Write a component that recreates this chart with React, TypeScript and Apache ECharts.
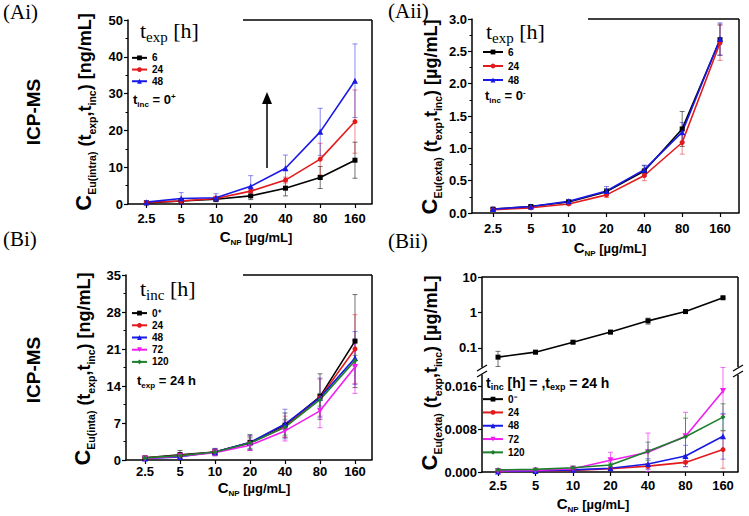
import React, { useEffect, useRef } from 'react';
import * as echarts from 'echarts';

// ---------- data ----------
const xLabels = ['2.5', '5', '10', '20', '40', '80', '160'];
const xIdx = [0, 1, 2, 3, 4, 5, 6];

// (Ai) intracellular, t_inc = 0+, legend t_exp [h]
const ai6 = [0.3, 0.8, 1.3, 2.2, 4.3, 7.2, 11.9];
const ai6Err = [0.3, 0.4, 0.5, 1.0, 2.1, 3.0, 4.9];
const ai24 = [0.4, 0.8, 1.5, 3.5, 6.5, 12.2, 22.4];
const ai24Err = [0.3, 0.5, 0.6, 0.9, 0.8, 4.3, 8.6];
const ai48 = [0.5, 1.5, 1.7, 4.8, 9.7, 19.6, 33.5];
const ai48Err = [0.4, 1.6, 1.1, 2.9, 3.6, 6.4, 10.0];

// (Aii) extracellular, t_inc = 0-, legend t_exp [h]
const aii6 = [0.06, 0.1, 0.17, 0.33, 0.65, 1.3, 2.68];
const aii6Err = [0.02, 0.02, 0.03, 0.05, 0.08, 0.27, 0.24];
const aii24 = [0.05, 0.08, 0.14, 0.28, 0.58, 1.09, 2.63];
const aii24Err = [0.02, 0.02, 0.02, 0.04, 0.08, 0.18, 0.27];
const aii48 = [0.06, 0.1, 0.18, 0.34, 0.67, 1.25, 2.69];
const aii48Err = [0.02, 0.02, 0.03, 0.07, 0.07, 0.15, 0.25];

// (Bi) intracellular, t_exp = 24 h, legend t_inc [h]
const bi0 = [0.4, 1.0, 1.5, 3.3, 6.6, 12.0, 22.5];
const bi0Err = [0.3, 0.8, 0.6, 1.5, 2.3, 4.3, 8.8];
const bi24 = [0.4, 0.8, 1.5, 3.2, 6.3, 11.8, 21.0];
const bi24Err = [0.3, 0.6, 0.6, 1.3, 2.0, 3.5, 6.5];
const bi48 = [0.3, 0.6, 1.5, 3.3, 6.8, 11.8, 19.3];
const bi48Err = [0.2, 0.5, 0.7, 1.3, 2.8, 3.7, 5.0];
const bi72 = [0.3, 0.7, 1.4, 2.8, 5.5, 9.3, 17.6];
const bi72Err = [0.2, 0.5, 0.6, 1.0, 1.9, 3.2, 5.0];
const bi120 = [0.4, 0.8, 1.5, 3.2, 6.2, 11.4, 18.8];
const bi120Err = [0.2, 0.4, 0.5, 1.0, 1.5, 1.2, 1.0];

// (Bii) extracellular, t_exp = 24 h, legend t_inc [h]
const bii0 = [0.055, 0.076, 0.145, 0.28, 0.58, 1.06, 2.6];
const bii0Err = [0.025, 0.008, 0.012, 0.03, 0.11, 0.1, 0.15];
const bii24 = [0.0001, 0.0002, 0.0003, 0.0006, 0.0011, 0.0018, 0.0042];
const bii24Err = [0.0001, 0.0001, 0.0002, 0.0003, 0.0005, 0.0008, 0.0035];
const bii48 = [0.0001, 0.0002, 0.0004, 0.0007, 0.0015, 0.003, 0.0067];
const bii48Err = [0.0001, 0.0001, 0.0002, 0.0003, 0.001, 0.002, 0.0043];
const bii72 = [0.0002, 0.0003, 0.0006, 0.0022, 0.0037, 0.0067, 0.0152];
const bii72Err = [0.0001, 0.0002, 0.0003, 0.0015, 0.0036, 0.0045, 0.0044];
const bii120 = [0.0004, 0.0005, 0.0008, 0.0013, 0.0039, 0.0066, 0.0103];
const bii120Err = [0.0001, 0.0001, 0.0003, 0.0004, 0.0017, 0.0035, 0.0025];

const biiLogTicks = [0.1, 1, 10];
const biiLinTicks = [0, 0.008, 0.016];

// ---------- style ----------
const SANS = '"Liberation Sans", Arial, Helvetica, sans-serif';
const SERIF = '"Liberation Serif", "Times New Roman", serif';
const C = { k: '#000000', r: '#e3191c', b: '#1919e6', m: '#f01ff0', g: '#1b7f2c' };
const E = {
  k: 'rgba(0,0,0,0.55)',
  r: 'rgba(227,25,28,0.5)',
  b: 'rgba(25,25,230,0.5)',
  m: 'rgba(240,31,240,0.65)',
  g: 'rgba(27,127,44,0.65)',
};

const grids = [
  { left: 128, top: 20, width: 244, height: 184 }, // Ai
  { left: 472, top: 19, width: 267, height: 194 }, // Aii
  { left: 126, top: 275, width: 246, height: 185 }, // Bi
  { left: 482, top: 277, width: 256, height: 90 }, // Bii upper (log)
  { left: 482, top: 375, width: 256, height: 97 }, // Bii lower (linear)
];
const xRange = [
  [-0.53, 6.49],
  [-0.555, 6.502],
  [-0.543, 6.486],
  [-0.427, 6.4],
  [-0.427, 6.4],
];
const xLabelMargin = [7.5, 8.5, 5, 6.5, 6.5];

function lineS(name: string, vals: number[], color: string, symbol: string, gi: number, rot = 0) {
  return {
    type: 'line',
    name,
    xAxisIndex: gi,
    yAxisIndex: gi,
    data: vals.map((v, i) => [xIdx[i], v]),
    symbol,
    symbolSize: symbol === 'triangle' ? 6 : 5,
    symbolRotate: rot,
    lineStyle: { color, width: 1.6 },
    itemStyle: { color },
    z: 3,
    clip: false,
  };
}

function errS(vals: number[], errs: number[], color: string, gi: number) {
  return {
    type: 'custom',
    xAxisIndex: gi,
    yAxisIndex: gi,
    silent: true,
    z: 2,
    clip: false,
    encode: { x: 0, y: 1 },
    data: vals.map((v, i) => [xIdx[i], v, errs[i]]),
    renderItem: (_p: any, api: any) => {
      const x = api.value(0);
      const v = api.value(1);
      const e = api.value(2);
      const hi = api.coord([x, v + e]);
      const lo = api.coord([x, v - e]);
      const c = 2.5;
      const st = { stroke: color, lineWidth: 1 };
      return {
        type: 'group',
        children: [
          { type: 'line', shape: { x1: hi[0], y1: hi[1], x2: lo[0], y2: lo[1] }, style: st },
          { type: 'line', shape: { x1: hi[0] - c, y1: hi[1], x2: hi[0] + c, y2: hi[1] }, style: st },
          { type: 'line', shape: { x1: lo[0] - c, y1: lo[1], x2: lo[0] + c, y2: lo[1] }, style: st },
        ],
      };
    },
  };
}

function xAxisCfg(gi: number, show = true) {
  return {
    type: 'value',
    gridIndex: gi,
    min: xRange[gi][0],
    max: xRange[gi][1],
    splitLine: { show: false },
    axisLine: { show, onZero: false, lineStyle: { color: '#000', width: 1.5 } },
    axisTick: { show, customValues: xIdx, length: 4, lineStyle: { color: '#000', width: 1.2 } },
    axisLabel: {
      show,
      customValues: xIdx,
      margin: xLabelMargin[gi],
      formatter: (v: number) => xLabels[Math.round(v)],
      color: '#000',
      fontSize: 13,
      fontWeight: 'bold',
      fontFamily: SANS,
    },
  };
}

const yLabelStyle = { color: '#000', fontSize: 13, fontWeight: 'bold', fontFamily: SANS, margin: 5 };
const yLine = { show: true, onZero: false, lineStyle: { color: '#000', width: 1.5 } };
const yTick = { show: true, length: 4, lineStyle: { color: '#000', width: 1.2 } };
const yMinor = { show: true, splitNumber: 2, length: 2.5, lineStyle: { color: '#000', width: 1 } };

function legendCfg(names: string[], left: number, top: number, itemWidth: number, lh: number) {
  return {
    data: names,
    orient: 'vertical',
    left,
    top,
    itemWidth,
    itemHeight: 6,
    itemGap: 0,
    padding: 0,
    selectedMode: false,
    formatter: (n: string) => n.split('|')[1],
    textStyle: { fontSize: 10, fontWeight: 'bold', fontFamily: SANS, color: '#000', lineHeight: lh },
  };
}

// rich text with sub/superscripts
function R(F: number, S: number, o: { Fc?: number; d?: number; fam?: string; w?: string } = {}) {
  const fam = o.fam || SANS;
  const w = o.w || 'bold';
  const Fc = o.Fc || F;
  const d = o.d ?? Math.round(F * 0.2);
  const LH = Math.max(F, Fc) + d + 1;
  const base = { fontFamily: fam, fontWeight: w, fill: '#000' };
  return {
    m: { ...base, fontSize: F, lineHeight: LH, verticalAlign: 'bottom', padding: [0, 0, d, 0] },
    c: { ...base, fontSize: Fc, verticalAlign: 'bottom', padding: [0, 0, d, 0] },
    s: { ...base, fontSize: S, verticalAlign: 'bottom' },
    p: { ...base, fontSize: S, verticalAlign: 'top', padding: [Math.max(0, LH - d - F - 1), 0, 0, 0] },
  };
}

function T(x: number, y: number, text: string, rich: any, o: { rot?: number; align?: string; va?: string } = {}) {
  return {
    type: 'text',
    x,
    y,
    rotation: o.rot || 0,
    z: 20,
    style: { text, rich, textAlign: o.align || 'left', textVerticalAlign: o.va || 'middle', fill: '#000' },
  };
}
function P(x: number, y: number, text: string, size: number, fam: string, weight: string, o: { rot?: number; align?: string } = {}) {
  return {
    type: 'text',
    x,
    y,
    rotation: o.rot || 0,
    z: 20,
    style: {
      text,
      fontSize: size,
      fontFamily: fam,
      fontWeight: weight,
      textAlign: o.align || 'left',
      textVerticalAlign: 'middle',
      fill: '#000',
    },
  };
}
function L(x1: number, y1: number, x2: number, y2: number, w = 1.5) {
  return { type: 'line', z: 20, shape: { x1, y1, x2, y2 }, style: { stroke: '#000', lineWidth: w } };
}

const yTitleRich = R(18, 10.5, { Fc: 22, d: 3 });
const xTitleRich = R(13, 8, { Fc: 15, d: 2 });
const legTitleRich = R(22, 15, { fam: SERIF, w: 'normal', d: 3 });
const noteRich = R(13, 8, { d: 2 });
const noteRich2 = R(14, 9, { d: 2 });
const ROT = Math.PI / 2;

const g = (gi: number) => grids[gi];
const rightOf = (gi: number) => g(gi).left + g(gi).width;
const bottomOf = (gi: number) => g(gi).top + g(gi).height;

const graphic: any[] = [
  // panel labels
  P(3, 12, '(Ai)', 21, SERIF, 'normal'),
  P(388, 11, '(Aii)', 21, SERIF, 'normal'),
  P(3, 239, '(Bi)', 21, SERIF, 'normal'),
  P(388, 241, '(Bii)', 21, SERIF, 'normal'),
  // ICP-MS
  P(33, 112, 'ICP-MS', 19, SANS, 'bold', { rot: ROT, align: 'center' }),
  P(33, 370, 'ICP-MS', 19, SANS, 'bold', { rot: ROT, align: 'center' }),
  // y titles
  T(84, 112, '{c|C}{s|Eu(intra)}{m| (t}{s|exp}{m|,t}{s|inc}{m|) [ng/mL]}', yTitleRich, { rot: ROT, align: 'center' }),
  T(430, 117, '{c|C}{s|Eu(exta)}{m| (t}{s|exp}{m|,t}{s|inc}{m|) [µg/mL]}', yTitleRich, { rot: ROT, align: 'center' }),
  T(83, 369, '{c|C}{s|Eu(inta)}{m| (t}{s|exp}{m|,t}{s|inc}{m|) [ng/mL]}', yTitleRich, { rot: ROT, align: 'center' }),
  T(430, 373, '{c|C}{s|Eu(exta)}{m| (t}{s|exp}{m|,t}{s|inc}{m|) [µg/mL]}', yTitleRich, { rot: ROT, align: 'center' }),
  // x titles
  T(256, 237, '{c|C}{s|NP}{m| [µg/mL]}', xTitleRich, { align: 'center' }),
  T(610, 248, '{c|C}{s|NP}{m| [µg/mL]}', xTitleRich, { align: 'center' }),
  T(254, 488, '{c|C}{s|NP}{m| [µg/mL]}', xTitleRich, { align: 'center' }),
  T(593, 504, '{c|C}{s|NP}{m| [µg/mL]}', xTitleRich, { align: 'center' }),
  // legend titles
  T(140, 31, '{m|t}{s|exp}{m| [h]}', legTitleRich),
  T(486, 32, '{m|t}{s|exp}{m| [h]}', legTitleRich),
  T(140, 289, '{m|t}{s|inc}{m| [h]}', legTitleRich),
  // notes
  T(133, 100, '{m|t}{s|inc}{m| = 0}{p|+}', noteRich),
  T(485, 96, '{m|t}{s|inc}{m| = 0}{p|-}', noteRich),
  T(137, 381, '{m|t}{s|exp}{m| = 24 h}', noteRich),
  T(486, 383, '{m|t}{s|inc}{m| [h] = ,t}{s|exp}{m| = 24 h}', noteRich2),
  // borders (right / top)
  L(rightOf(0), g(0).top, rightOf(0), bottomOf(0)),
  L(243, g(0).top, rightOf(0), g(0).top),
  L(rightOf(1), g(1).top, rightOf(1), bottomOf(1)),
  L(588, g(1).top, rightOf(1), g(1).top),
  L(rightOf(2), g(2).top, rightOf(2), bottomOf(2)),
  L(243, g(2).top, rightOf(2), g(2).top),
  L(g(3).left, g(3).top, rightOf(3), g(3).top),
  L(rightOf(3), g(3).top, rightOf(3), bottomOf(3)),
  L(rightOf(4), g(4).top, rightOf(4), bottomOf(4)),
  // axis break marks
  L(477, 371, 487, 365, 1.2),
  L(477, 377, 487, 371, 1.2),
  L(733, 371, 743, 365, 1.2),
  L(733, 377, 743, 371, 1.2),
  // arrow in Ai
  L(267, 168, 267, 103, 1.5),
  { type: 'polygon', z: 20, shape: { points: [[262, 104], [272, 104], [267, 92]] }, style: { fill: '#000' } },
];

const series: any[] = [
  // Ai
  errS(ai6, ai6Err, E.k, 0), errS(ai24, ai24Err, E.r, 0), errS(ai48, ai48Err, E.b, 0),
  lineS('Ai|6', ai6, C.k, 'rect', 0), lineS('Ai|24', ai24, C.r, 'circle', 0), lineS('Ai|48', ai48, C.b, 'triangle', 0),
  // Aii
  errS(aii6, aii6Err, E.k, 1), errS(aii24, aii24Err, E.r, 1), errS(aii48, aii48Err, E.b, 1),
  lineS('Aii|6', aii6, C.k, 'rect', 1), lineS('Aii|24', aii24, C.r, 'circle', 1), lineS('Aii|48', aii48, C.b, 'triangle', 1),
  // Bi
  errS(bi0, bi0Err, E.k, 2), errS(bi24, bi24Err, E.r, 2), errS(bi48, bi48Err, E.b, 2),
  errS(bi72, bi72Err, E.m, 2), errS(bi120, bi120Err, E.g, 2),
  lineS('Bi|0⁺', bi0, C.k, 'rect', 2), lineS('Bi|24', bi24, C.r, 'circle', 2), lineS('Bi|48', bi48, C.b, 'triangle', 2),
  lineS('Bi|72', bi72, C.m, 'triangle', 2, 180), lineS('Bi|120', bi120, C.g, 'diamond', 2),
  // Bii upper
  errS(bii0, bii0Err, E.k, 3),
  lineS('Bii|0⁻', bii0, C.k, 'rect', 3),
  // Bii lower
  errS(bii24, bii24Err, E.r, 4), errS(bii48, bii48Err, E.b, 4), errS(bii72, bii72Err, E.m, 4), errS(bii120, bii120Err, E.g, 4),
  lineS('Bii|24', bii24, C.r, 'circle', 4), lineS('Bii|48', bii48, C.b, 'triangle', 4),
  lineS('Bii|72', bii72, C.m, 'triangle', 4, 180), lineS('Bii|120', bii120, C.g, 'diamond', 4),
];

const option: any = {
  animation: false,
  backgroundColor: '#ffffff',
  grid: grids,
  xAxis: [xAxisCfg(0), xAxisCfg(1), xAxisCfg(2), xAxisCfg(3, false), xAxisCfg(4)],
  yAxis: [
    {
      type: 'value', gridIndex: 0, min: 0, max: 50, interval: 10,
      axisLine: yLine, axisTick: yTick, minorTick: yMinor, splitLine: { show: false }, axisLabel: yLabelStyle,
    },
    {
      type: 'value', gridIndex: 1, min: 0, max: 3, interval: 0.5,
      axisLine: yLine, axisTick: yTick, minorTick: yMinor, splitLine: { show: false },
      axisLabel: { ...yLabelStyle, formatter: (v: number) => v.toFixed(1) },
    },
    {
      type: 'value', gridIndex: 2, min: 0, max: 35, interval: 7,
      axisLine: yLine, axisTick: yTick, minorTick: yMinor, splitLine: { show: false }, axisLabel: yLabelStyle,
    },
    {
      type: 'log', gridIndex: 3, min: 0.029, max: 10, logBase: 10,
      axisLine: yLine, axisTick: { ...yTick, customValues: biiLogTicks }, splitLine: { show: false },
      axisLabel: { ...yLabelStyle, customValues: biiLogTicks, formatter: (v: number) => String(v) },
    },
    {
      type: 'value', gridIndex: 4, min: 0, max: 0.0182,
      axisLine: yLine, axisTick: { ...yTick, customValues: biiLinTicks }, splitLine: { show: false },
      axisLabel: { ...yLabelStyle, customValues: biiLinTicks, formatter: (v: number) => v.toFixed(3) },
    },
  ],
  legend: [
    legendCfg(['Ai|6', 'Ai|24', 'Ai|48'], 131, 52, 15, 11.7),
    legendCfg(['Aii|6', 'Aii|24', 'Aii|48'], 482, 45, 20, 14),
    legendCfg(['Bi|0⁺', 'Bi|24', 'Bi|48', 'Bi|72', 'Bi|120'], 131, 307, 15, 12.2),
    legendCfg(['Bii|0⁻', 'Bii|24', 'Bii|48', 'Bii|72', 'Bii|120'], 482, 392.5, 20, 13.3),
  ],
  graphic,
  series,
};

export default function App() {
  const ref = useRef<HTMLDivElement>(null);
  useEffect(() => {
    const chart = echarts.init(ref.current!, null, { renderer: 'svg' });
    chart.setOption(option);
    return () => chart.dispose();
  }, []);
  return (
    <div
      ref={ref}
      style={{ position: 'fixed', left: 0, top: 0, width: 749, height: 516, background: '#fff' }}
    />
  );
}
